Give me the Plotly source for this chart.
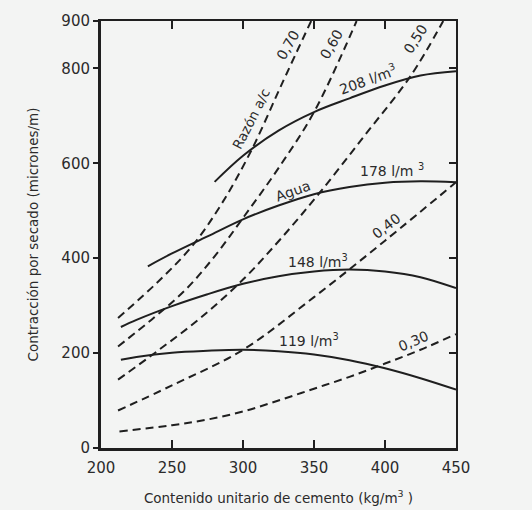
import plotly.graph_objects as go

# Solid curves: water content (l/m3)
w208_x = [280, 300, 325, 350, 375, 400, 425, 450]
w208_y = [561, 616, 669, 708, 737, 764, 785, 794]
w178_x = [233, 250, 275, 300, 325, 350, 375, 400, 425, 450]
w178_y = [383, 410, 446, 482, 511, 535, 550, 559, 562, 560]
w148_x = [214, 225, 250, 275, 300, 325, 350, 375, 400, 425, 450]
w148_y = [255, 270, 299, 324, 346, 362, 372, 376, 372, 360, 337]
w119_x = [214, 225, 250, 275, 300, 325, 350, 375, 400, 425, 450]
w119_y = [186, 192, 201, 205, 207, 204, 197, 185, 168, 147, 123]

# Dashed curves: w/c ratio
r70_x = [212, 240, 264, 285, 306, 327, 348]
r70_y = [274, 350, 425, 515, 628, 765, 900]
r60_x = [212, 237, 260, 280, 301, 325, 350, 380]
r60_y = [214, 274, 335, 404, 489, 590, 708, 900]
r50_x = [212, 240, 270, 300, 326, 354, 386, 418, 441]
r50_y = [144, 205, 274, 355, 439, 538, 660, 784, 900]
r40_x = [212, 250, 300, 350, 400, 450]
r40_y = [79, 132, 207, 318, 437, 560]
r30_x = [213, 250, 275, 300, 325, 350, 375, 400, 425, 450]
r30_y = [35, 48, 60, 77, 100, 125, 150, 178, 207, 240]

x_ticks = [200, 250, 300, 350, 400, 450]
y_ticks = [0, 200, 400, 600, 800, 900]

INK = "#1f1f1f"
TXT = "#2b2b2b"
FONT = "DejaVu Sans"

fig = go.Figure()
for xs, ys in [(w208_x, w208_y), (w178_x, w178_y), (w148_x, w148_y), (w119_x, w119_y)]:
    fig.add_trace(go.Scatter(x=xs, y=ys, mode="lines", line=dict(color=INK, width=2, shape="spline"),
                             showlegend=False, hoverinfo="skip"))
for xs, ys in [(r70_x, r70_y), (r60_x, r60_y), (r50_x, r50_y), (r40_x, r40_y), (r30_x, r30_y)]:
    fig.add_trace(go.Scatter(x=xs, y=ys, mode="lines",
                             line=dict(color=INK, width=2, dash="8px,5px", shape="spline"),
                             showlegend=False, hoverinfo="skip"))
# helper trace for top/right frame axes
fig.add_trace(go.Scatter(x=[None], y=[None], xaxis="x2", yaxis="y2", showlegend=False, hoverinfo="skip"))

labels = [
    ("Razón a/c", 305.5, 694, -63, 13.5),
    ("0,70", 331.5, 850, -60, 14),
    ("0,60", 362.5, 851, -60, 14),
    ("0,50", 421.5, 862, -57, 14),
    ("208 l/m<sup>3</sup>", 388, 778, -20, 14),
    ("Agua", 335, 542, -20, 14),
    ("178 l/m <sup>3</sup>", 405, 586, 0, 14),
    ("148 l/m<sup>3</sup>", 353, 395, 0, 14),
    ("119 l/m<sup>3</sup>", 346.5, 227, 0, 14),
    ("0,40", 401, 467, -38, 14),
    ("0,30", 420, 225, -23, 14),
]
for t, x, y, a, s in labels:
    fig.add_annotation(x=x, y=y, text=t, showarrow=False, textangle=a,
                       font=dict(family=FONT, size=s, color=TXT), bgcolor="rgba(0,0,0,0)")

fig.update_layout(
    width=532, height=510,
    margin=dict(l=101, r=76, t=21, b=62, autoexpand=False),
    paper_bgcolor="#f3f4f3", plot_bgcolor="#f3f4f3",
    font=dict(family=FONT, color=TXT),
    xaxis=dict(range=[200, 450], tickvals=x_ticks, ticks="inside", ticklen=8, tickwidth=2,
               tickcolor=INK, showline=True, linecolor=INK, linewidth=3, showgrid=False,
               zeroline=False, tickfont=dict(size=15, color=TXT), ticklabelstandoff=4,
               automargin=False,
               title=dict(text="Contenido unitario de cemento (kg/m<sup>3</sup> )",
                          font=dict(size=13.5, color=TXT), standoff=18)),
    yaxis=dict(range=[0, 900], tickvals=y_ticks, ticks="outside", ticklen=5, tickwidth=2,
               tickcolor=INK, showline=True, linecolor=INK, linewidth=3, showgrid=False,
               zeroline=False, tickfont=dict(size=15, color=TXT), automargin=False,
               title=dict(text="Contracción por secado (micrones/m)",
                          font=dict(size=13.5, color=TXT), standoff=20)),
    xaxis2=dict(range=[200, 450], overlaying="x", side="top", tickvals=[250, 300, 350, 400],
                ticks="inside", ticklen=8, tickwidth=2, tickcolor=INK, showticklabels=False,
                automargin=False,
                showline=True, linecolor=INK, linewidth=2, showgrid=False, zeroline=False),
    yaxis2=dict(range=[0, 900], overlaying="y", side="right", tickvals=[200, 400, 600, 800],
                ticks="inside", ticklen=7, tickwidth=2, tickcolor=INK, showticklabels=False,
                automargin=False,
                showline=True, linecolor=INK, linewidth=2, showgrid=False, zeroline=False),
)
fig.write_html("out.html", config={"displayModeBar": False},
               post_script="document.body.style.margin='0';document.body.style.background='#f3f4f3';")
